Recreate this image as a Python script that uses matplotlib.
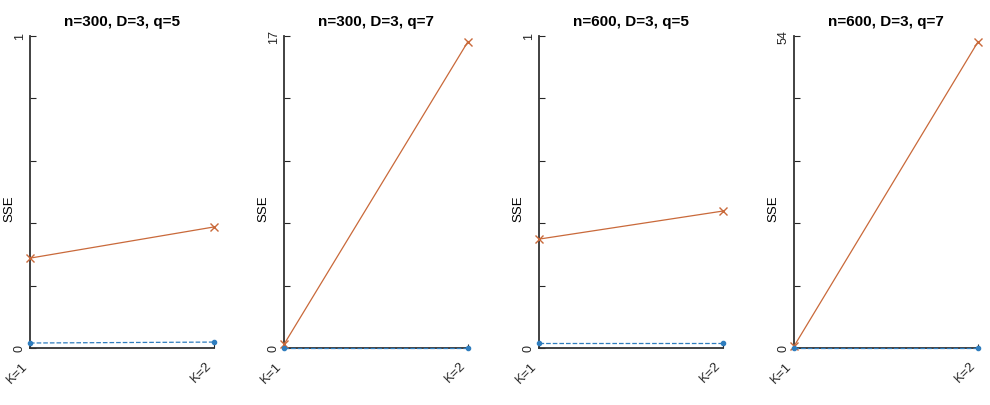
import matplotlib
matplotlib.use("Agg")
import matplotlib.pyplot as plt
import numpy as np

plt.rcParams['font.family'] = ['Liberation Sans', 'DejaVu Sans']

titles = ["n=300, D=3, q=5", "n=300, D=3, q=7", "n=600, D=3, q=5", "n=600, D=3, q=7"]
k_labels = ["K=1", "K=2"]
ymax = [1, 17, 1, 54]
series_blue = [[0.016, 0.019], [0.0, 0.0], [0.016, 0.016], [0.0, 0.0]]
series_orange = [[0.288, 0.388], [0.2, 16.7], [0.349, 0.439], [0.3, 53.0]]

fig = plt.figure(figsize=(9.9, 4.06), dpi=100)
lefts = [30, 284, 539, 794]
W, H = 990, 406
for i in range(4):
    ax = fig.add_axes([lefts[i] / W, 1 - 349 / H, 184 / W, (349 - 37) / H])
    x = np.arange(1, len(k_labels) + 1)
    ax.plot(x, series_orange[i], color='#C9693A', lw=0.9, marker='x', ms=6,
            mew=1.0, clip_on=False, zorder=3)
    ax.plot(x, series_blue[i], color='#2F7DBE', lw=0.9, ls='--', marker='.',
            ms=6, clip_on=False, zorder=4)
    ax.set_xlim(1, 2)
    ax.set_ylim(0, ymax[i])
    ax.set_yticks(np.linspace(0, ymax[i], 6))
    ax.set_yticklabels([str(ymax[i]) if j == 5 else ('0' if j == 0 else '') for j in range(6)],
                       rotation=90, va='center', fontsize=9)
    ax.set_xticks(x)
    ax.set_xticklabels(k_labels, rotation=45, ha='right', fontsize=9.5)
    ax.tick_params(axis='y', direction='in', length=4, width=0.8, colors='#262626', pad=3)
    ax.tick_params(axis='x', direction='in', length=3, width=0.8, colors='#262626', pad=8)
    for s in ['top', 'right']:
        ax.spines[s].set_visible(False)
    for s in ['left', 'bottom']:
        ax.spines[s].set_color('#333333')
        ax.spines[s].set_linewidth(1.3)
    ax.set_ylabel('SSE', fontsize=9.5, labelpad=0)
    ax.yaxis.set_label_coords(-0.08, 0.45)
    ax.set_title(titles[i], fontsize=11, fontweight='bold', pad=8)

fig.savefig('out.png', dpi=100)
